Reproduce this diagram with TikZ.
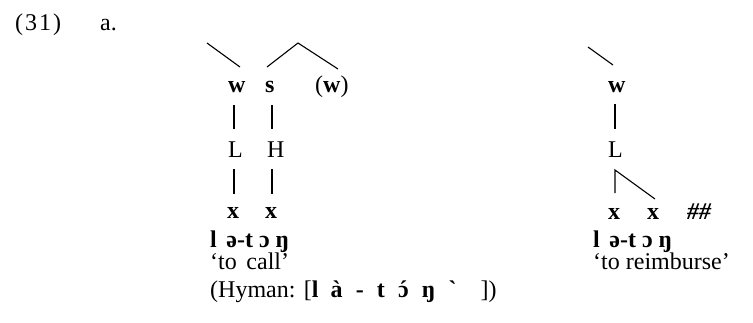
\documentclass[tikz,border=0pt]{standalone}
\usepackage{fontspec}
\setmainfont{Liberation Serif}
\begin{document}
\begin{tikzpicture}[x=1pt,y=-1pt,
  lbl/.style={inner sep=0pt, anchor=base west, font=\fontsize{24}{28}\selectfont},
  seg/.style={inner sep=0pt, anchor=base west, font=\fontsize{24}{28}\selectfont\bfseries},
  br/.style={line width=1.1pt}]
\useasboundingbox (0,0) rectangle (753,322);

% example number
\node[lbl] (num) at (15,30) {(\kern2pt3\kern2pt1\kern2pt)};
\node[lbl] (sub) at (100,30) {a.};

% ---- lat-on 'to call' ----
\node[seg] (w1) at (228,92) {w};
\node[seg] (s1) at (265,92) {s};
\node[lbl] (w2) at (315,92) {(\textbf{w})};
\coordinate (w1top) at (207,43);
\coordinate (peak) at (298,43);
\draw[br] (w1top) -- ([xshift=12pt,yshift=25pt]w1.base west);
\draw[br] ([xshift=2pt,yshift=25pt]s1.base west) -- (peak) -- ([xshift=23pt,yshift=23pt]w2.base west);

\node[lbl] (L1) at (228,157) {L};
\node[lbl] (H1) at (267,157) {H};
\node[seg] (x1) at (227,218) {x};
\node[seg] (x2) at (265,218) {x};

\draw[br] ([xshift=6pt,yshift=-13pt]w1.base west) -- ([xshift=6pt,yshift=28pt]L1.base west);
\draw[br] ([xshift=7pt,yshift=-13pt]s1.base west) -- ([xshift=5pt,yshift=28pt]H1.base west);
\draw[br] ([xshift=6pt,yshift=-12pt]L1.base west) -- ([xshift=7pt,yshift=24pt]x1.base west);
\draw[br] ([xshift=5pt,yshift=-12pt]H1.base west) -- ([xshift=7pt,yshift=24pt]x2.base west);

\node[seg] (f1) at (210,247) {l\hspace{0.4em}ə-t\hspace{0.25em}ɔ\hspace{0.25em}ŋ};
\node[lbl] (g1) at (210,269) {‘to\hspace{0.15em} call’};
\node[lbl] (h1) at (210,297) {(Hyman:\hspace{0.35em}[\textbf{l\hspace{0.5em}à\hspace{0.55em}-\hspace{0.55em}t\hspace{0.55em}\accent"00B4 ɔ\hspace{0.55em}ŋ\hspace{0.55em}\char"02CB}\hspace{1em}])};

% ---- lat-on 'to reimburse' ----
\node[seg] (w3) at (608,92) {w};
\coordinate (w3top) at (588,47);
\draw[br] (w3top) -- ([xshift=5pt,yshift=27pt]w3.base west);
\node[lbl] (L2) at (608,157) {L};
\node[seg] (x3) at (608,219) {x};
\node[seg] (x4) at (647,219) {x};
\node[lbl, font=\fontsize{24}{28}\selectfont\bfseries\itshape] (hh) at (687,219) {\#\#};

\draw[br] ([xshift=7pt,yshift=-12pt]w3.base west) -- ([xshift=7pt,yshift=28pt]L2.base west);
\draw[br] ([xshift=7pt,yshift=26pt]x3.base west) -- ([xshift=7pt,yshift=-13pt]L2.base west) -- ([xshift=8pt,yshift=20pt]x4.base west);

\node[seg] (f2) at (593,247) {l\hspace{0.4em}ə-t\hspace{0.25em}ɔ\hspace{0.25em}ŋ};
\node[lbl] (g2) at (593,269) {‘to reimburse’};
\end{tikzpicture}
\end{document}
